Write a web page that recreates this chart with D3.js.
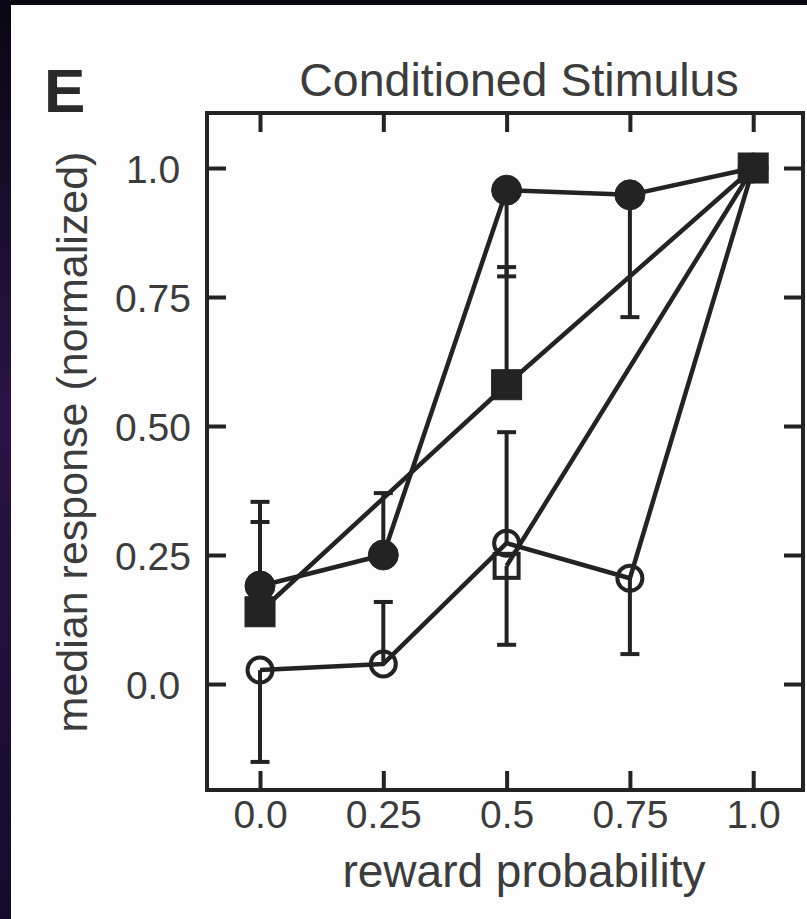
<!DOCTYPE html>
<html>
<head>
<meta charset="utf-8">
<script src="https://cdn.jsdelivr.net/npm/d3@7"></script>
<style>
  body { margin: 0; background: #0a0612; }
  svg { display: block; }
</style>
</head>
<body>
<div id="canvas"></div>
<script>
// ---- data ----
const probs = [0, 0.25, 0.5, 0.75, 1.0];
const filledCircle = [0.19, 0.25, 0.957, 0.948, 1.0];
const filledSquare = [0.14, null, 0.58, null, 1.0];
const openCircle = [0.027, 0.039, 0.273, 0.205, 1.0];
const openSquare = [null, null, 0.229, null, 1.0];
// error bar ends (one-sided)
const filledCircleErr = [0.353, 0.37, 0.79, 0.711, null];
const filledSquareErr = [0.314, null, 0.808, null, null];
const openCircleErr = [-0.151, 0.159, 0.488, 0.058, null];
const openSquareErr = [null, null, 0.076, null, null];

const xTicks = [0, 0.25, 0.5, 0.75, 1.0];
const xTickLabels = ["0.0", "0.25", "0.5", "0.75", "1.0"];
const yTicks = [0, 0.25, 0.5, 0.75, 1.0];
const yTickLabels = ["0.0", "0.25", "0.50", "0.75", "1.0"];

const width = 807;
const height = 919;
const frame = {left: 207, right: 803, top: 113, bottom: 790};
const ink = "#232323";
const textInk = "#3c3c3c";
const font = "'Liberation Sans', Arial, Helvetica, sans-serif";

const svg = d3.select("#canvas").append("svg")
    .attr("width", width)
    .attr("height", height);

// dark slide background with a purple glow on the left edge
const defs = svg.append("defs");
const grad = defs.append("linearGradient")
    .attr("id", "edge").attr("x1", 0).attr("y1", 0).attr("x2", 0).attr("y2", 1);
grad.append("stop").attr("offset", "0%").attr("stop-color", "#0a0612");
grad.append("stop").attr("offset", "45%").attr("stop-color", "#2a1446");
grad.append("stop").attr("offset", "100%").attr("stop-color", "#160a2a");

svg.append("rect").attr("width", width).attr("height", height).attr("fill", "#0a0612");
svg.append("rect").attr("width", 11).attr("height", height).attr("fill", "url(#edge)");
svg.append("rect")
    .attr("x", 11).attr("y", 5)
    .attr("width", width - 11).attr("height", height - 5)
    .attr("fill", "#fdfdfd");

const x = d3.scaleLinear()
    .domain([-0.1075, 1.101])
    .range([frame.left, frame.right]);

const y = d3.scaleLinear()
    .domain([-0.2054, 1.1066])
    .range([frame.bottom, frame.top]);

// axes with inward ticks on all four sides
const styleAxis = g => {
    g.select(".domain").remove();
    g.selectAll(".tick line").attr("stroke", ink).attr("stroke-width", 4);
};

svg.append("g")
    .attr("transform", `translate(0, ${frame.bottom})`)
    .call(d3.axisBottom(x).tickValues(xTicks).tickSize(-19).tickSizeOuter(0)
        .tickFormat((d, i) => xTickLabels[i]))
    .call(styleAxis)
    .call(g => g.selectAll(".tick text")
        .attr("y", 38).attr("dy", null)
        .attr("fill", textInk)
        .style("font-family", font).style("font-size", "39px"));

svg.append("g")
    .attr("transform", `translate(0, ${frame.top})`)
    .call(d3.axisTop(x).tickValues(xTicks).tickSize(-19).tickSizeOuter(0).tickFormat(""))
    .call(styleAxis);

svg.append("g")
    .attr("transform", `translate(${frame.left}, 0)`)
    .call(d3.axisLeft(y).tickValues(yTicks).tickSize(-19).tickSizeOuter(0)
        .tickFormat((d, i) => yTickLabels[i]))
    .call(styleAxis)
    .call(g => g.selectAll(".tick text")
        .attr("x", -54).attr("dy", "0.36em")
        .attr("text-anchor", "middle")
        .attr("fill", textInk)
        .style("font-family", font).style("font-size", "39px"));

svg.append("g")
    .attr("transform", `translate(${frame.right}, 0)`)
    .call(d3.axisRight(y).tickValues(yTicks).tickSize(-19).tickSizeOuter(0).tickFormat(""))
    .call(styleAxis);

svg.append("rect")
    .attr("x", frame.left).attr("y", frame.top)
    .attr("width", frame.right - frame.left)
    .attr("height", frame.bottom - frame.top)
    .attr("fill", "none")
    .attr("stroke", ink)
    .attr("stroke-width", 4);

// series
const series = [
    {vals: filledCircle, err: filledCircleErr, shape: "circle", filled: true},
    {vals: filledSquare, err: filledSquareErr, shape: "square", filled: true},
    {vals: openCircle, err: openCircleErr, shape: "circle", filled: false},
    {vals: openSquare, err: openSquareErr, shape: "square", filled: false}
];

const pts = s => probs.map((p, i) => ({p: p, v: s.vals[i], e: s.err[i]}))
    .filter(d => d.v !== null);

const line = d3.line()
    .x(d => x(d.p))
    .y(d => y(d.v));

const plot = svg.append("g");

series.forEach(s => {
    plot.append("path")
        .datum(pts(s))
        .attr("d", line)
        .attr("fill", "none")
        .attr("stroke", ink)
        .attr("stroke-width", 4.5)
        .attr("stroke-linejoin", "round");
});

// error bars
series.forEach(s => {
    const bars = pts(s).filter(d => d.e !== null);
    plot.selectAll(null).data(bars).enter().append("line")
        .attr("x1", d => x(d.p)).attr("x2", d => x(d.p))
        .attr("y1", d => y(d.v)).attr("y2", d => y(d.e))
        .attr("stroke", ink).attr("stroke-width", 4);
    plot.selectAll(null).data(bars).enter().append("line")
        .attr("x1", d => x(d.p) - 9.5).attr("x2", d => x(d.p) + 9.5)
        .attr("y1", d => y(d.e)).attr("y2", d => y(d.e))
        .attr("stroke", ink).attr("stroke-width", 4);
});

// markers
series.forEach(s => {
    const data = pts(s);
    if (s.shape === "circle") {
        plot.selectAll(null).data(data).enter().append("circle")
            .attr("cx", d => x(d.p))
            .attr("cy", d => y(d.v))
            .attr("r", s.filled ? 15 : 12.5)
            .attr("fill", s.filled ? ink : "none")
            .attr("stroke", ink)
            .attr("stroke-width", s.filled ? 1 : 4);
    } else {
        const size = s.filled ? 30 : 24;
        plot.selectAll(null).data(data).enter().append("rect")
            .attr("x", d => x(d.p) - size / 2)
            .attr("y", d => y(d.v) - size / 2)
            .attr("width", size)
            .attr("height", size)
            .attr("fill", s.filled ? ink : "none")
            .attr("stroke", ink)
            .attr("stroke-width", s.filled ? 1 : 4);
    }
});

// texts
svg.append("text")
    .attr("x", 519).attr("y", 96)
    .attr("text-anchor", "middle")
    .attr("fill", textInk)
    .style("font-family", font).style("font-size", "46.5px")
    .text("Conditioned Stimulus");

svg.append("text")
    .attr("x", 44).attr("y", 112)
    .attr("fill", "#2a2a2a")
    .style("font-family", font).style("font-size", "62px").style("font-weight", "bold")
    .text("E");

svg.append("text")
    .attr("x", 524).attr("y", 887)
    .attr("text-anchor", "middle")
    .attr("fill", textInk)
    .style("font-family", font).style("font-size", "46px")
    .text("reward probability");

svg.append("text")
    .attr("transform", "translate(87, 442) rotate(-90)")
    .attr("text-anchor", "middle")
    .attr("fill", textInk)
    .style("font-family", font).style("font-size", "43px")
    .text("median response (normalized)");
</script>
</body>
</html>
